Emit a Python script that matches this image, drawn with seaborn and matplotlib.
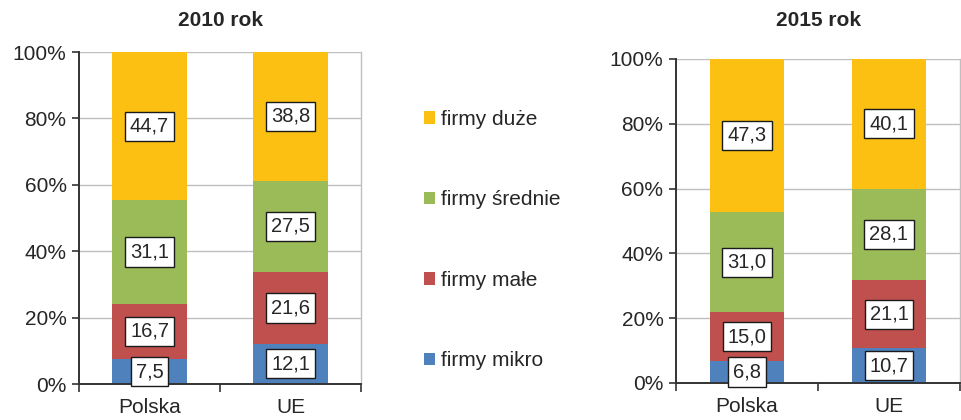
import matplotlib
matplotlib.use("Agg")
import matplotlib.pyplot as plt
from matplotlib.patches import Patch
import numpy as np
import pandas as pd
import seaborn as sns

# Shares of enterprises by size class (%), Poland vs EU
regions = ["Polska", "UE"]
size_classes = ["firmy mikro", "firmy małe", "firmy średnie", "firmy duże"]
mikro_2010 = [7.5, 12.1]
male_2010 = [16.7, 21.6]
srednie_2010 = [31.1, 27.5]
duze_2010 = [44.7, 38.8]
mikro_2015 = [6.8, 10.7]
male_2015 = [15.0, 21.1]
srednie_2015 = [31.0, 28.1]
duze_2015 = [47.3, 40.1]
panel_titles = ["2010 rok", "2015 rok"]
y_ticks = [0, 20, 40, 60, 80, 100]
y_tick_labels = ["0%", "20%", "40%", "60%", "80%", "100%"]

colors = ["#4F81BD", "#C0504D", "#9BBB59", "#FBC012"]
text_color = "#262626"

sns.set_theme(style="white")
plt.rcParams["font.family"] = ["Liberation Sans", "DejaVu Sans"]

W, H = 961, 420
fig = plt.figure(figsize=(W / 100, H / 100), dpi=100)


def px_axes(x0, x1, ytop, ybot):
    return fig.add_axes([x0 / W, (H - ybot) / H, (x1 - x0) / W, (ybot - ytop) / H])


axes = [px_axes(79, 361, 52, 384), px_axes(676, 960, 59, 383)]
panels = [
    [mikro_2010, male_2010, srednie_2010, duze_2010],
    [mikro_2015, male_2015, srednie_2015, duze_2015],
]

for ax, series, title in zip(axes, panels, panel_titles):
    vals = np.array(series)            # shape (classes, regions)
    cum = np.cumsum(vals, axis=0)
    # draw cumulative bars from the top layer down so lower layers overlay
    for k in range(len(size_classes) - 1, -1, -1):
        df = pd.DataFrame({"region": regions, "value": cum[k]})
        sns.barplot(data=df, x="region", y="value", color=colors[k],
                    saturation=1, width=0.525, ax=ax, linewidth=0,
                    zorder=2)
    # value labels in white boxes, centred within each segment
    for k in range(len(size_classes)):
        for i in range(len(regions)):
            mid = cum[k, i] - vals[k, i] / 2
            ax.text(i, mid, f"{vals[k, i]:.1f}".replace(".", ","),
                    ha="center", va="center", fontsize=14.5, color=text_color,
                    zorder=5,
                    bbox=dict(boxstyle="square,pad=0.25", fc="white",
                              ec="#1a1a1a", lw=1.0))
    ax.set_xlim(-0.5, 1.5)
    ax.set_ylim(0, 100)
    ax.set_yticks(y_ticks)
    ax.set_yticklabels(y_tick_labels, fontsize=15, color=text_color)
    ax.set_xticks([0, 1])
    ax.set_xticklabels(regions, fontsize=15, color=text_color)
    ax.set_xticks([-0.5, 0.5, 1.5], minor=True)
    ax.tick_params(axis="x", which="major", length=0, pad=10)
    ax.tick_params(axis="x", which="minor", length=6, width=1.2,
                   color="#333333", direction="out", bottom=True)
    ax.tick_params(axis="y", which="major", length=5, width=1.2,
                   color="#333333", direction="out", left=True, pad=4)
    ax.set_xlabel("")
    ax.set_ylabel("")
    ax.yaxis.grid(True, color="#BFBFBF", lw=1.0, zorder=0)
    ax.set_axisbelow(True)
    for side in ["left", "bottom"]:
        ax.spines[side].set_color("#333333")
        ax.spines[side].set_linewidth(1.4)
        ax.spines[side].set_zorder(4)
    ax.spines["top"].set_visible(False)
    ax.spines["right"].set_visible(True)
    ax.spines["right"].set_color("#BFBFBF")
    ax.spines["right"].set_linewidth(1.0)

fig.text(220 / W, 1 - 20 / H, panel_titles[0], ha="center", va="center",
         fontsize=15, fontweight="bold", color=text_color)
fig.text(818 / W, 1 - 20 / H, panel_titles[1], ha="center", va="center",
         fontsize=15, fontweight="bold", color=text_color)

handles = [Patch(facecolor=colors[k], edgecolor="none", label=size_classes[k])
           for k in range(len(size_classes) - 1, -1, -1)]
fig.legend(handles=handles, loc="upper left",
           bbox_to_anchor=(424 / W, 1 - 110 / H), frameon=False,
           fontsize=15, labelcolor=text_color, handlelength=0.55,
           handleheight=0.55, handletextpad=0.25, labelspacing=2.95,
           borderaxespad=0, borderpad=0)

fig.savefig("out.png", dpi=100)
